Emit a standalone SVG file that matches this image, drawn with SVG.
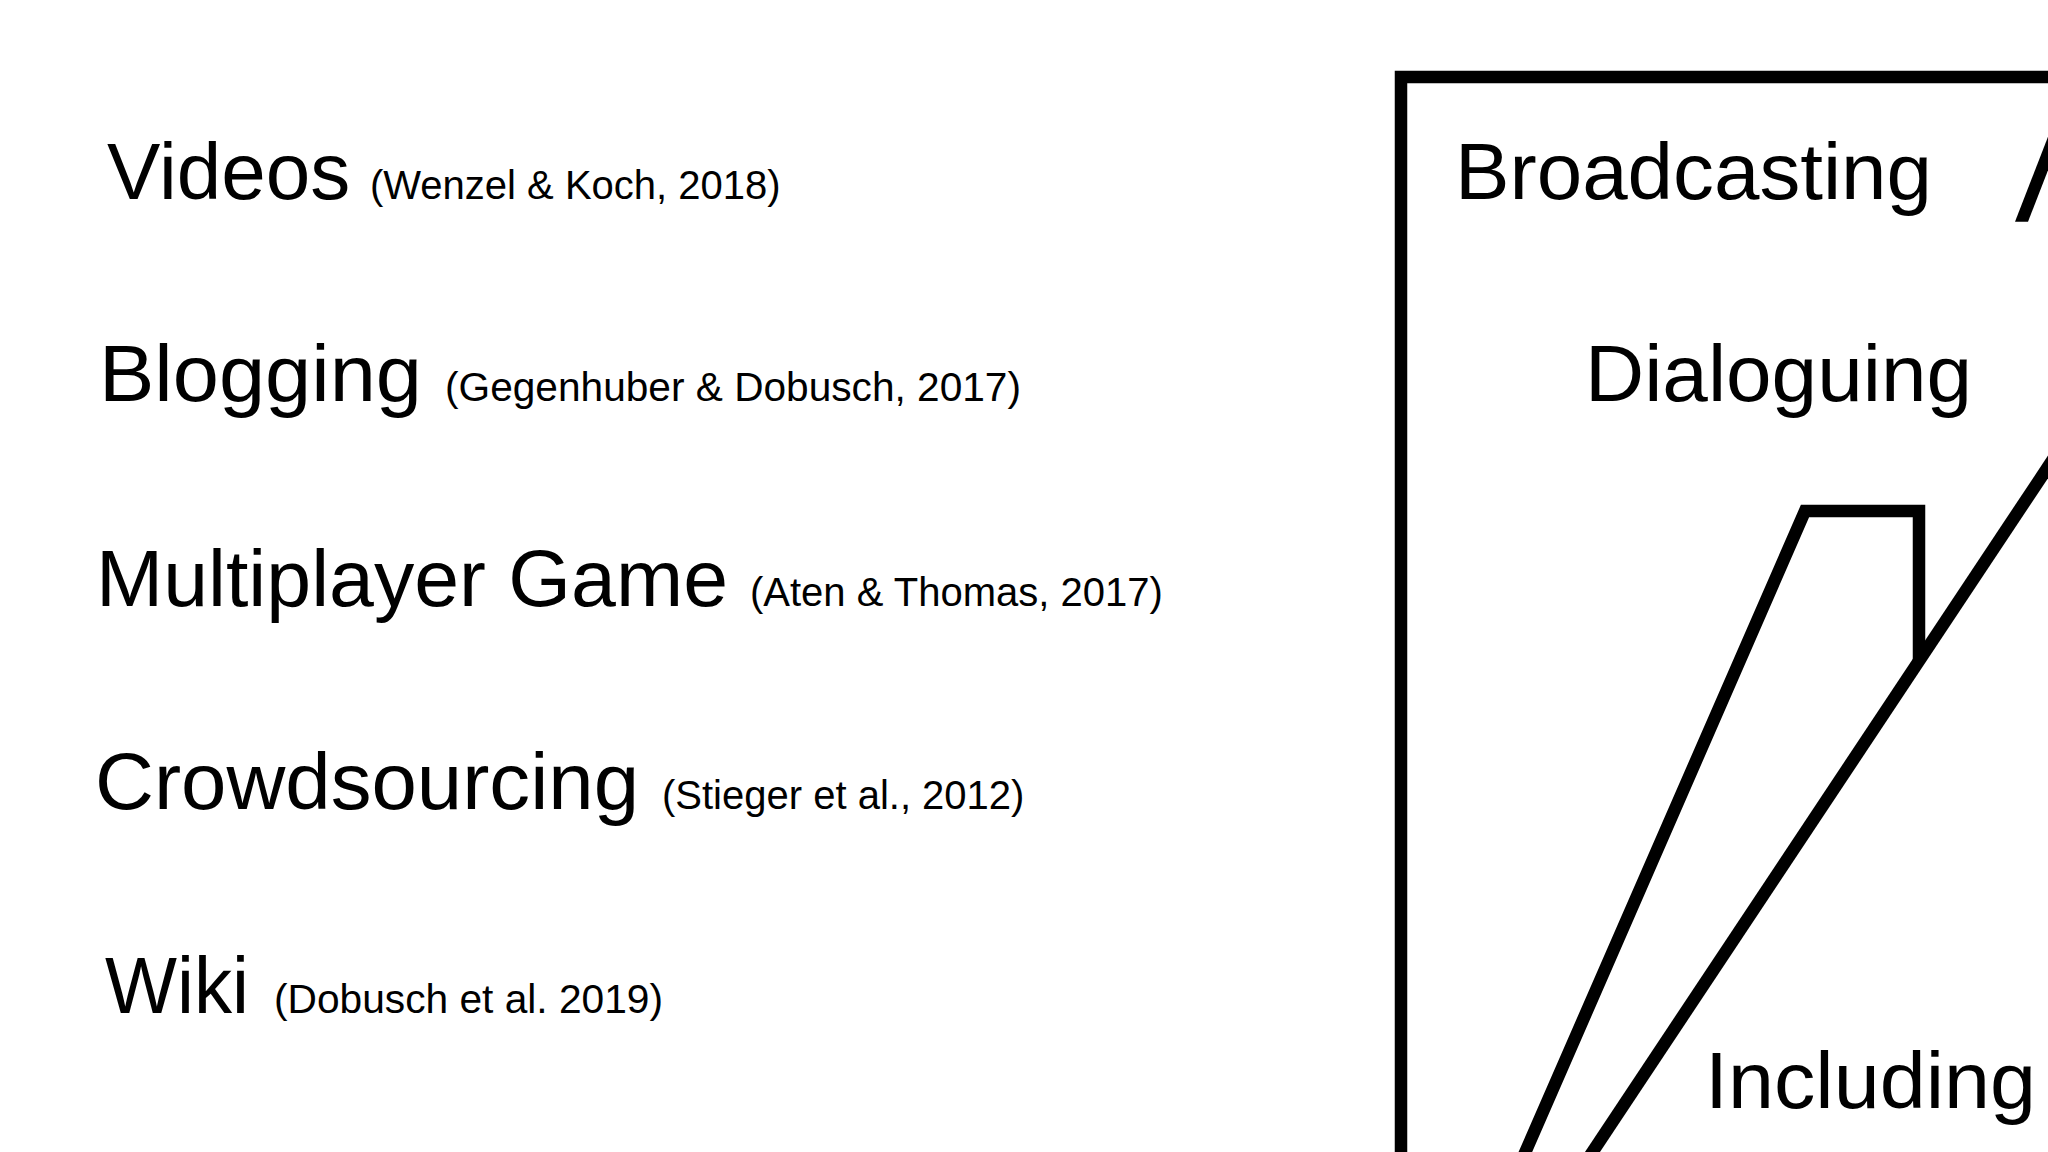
<svg xmlns="http://www.w3.org/2000/svg" width="2048" height="1152" viewBox="0 0 2048 1152">
  <style>
    .big { font-family: "Liberation Sans", Arial, Helvetica, sans-serif; font-size: 80px; fill: #000; }
    .cite { font-family: "Liberation Sans", Arial, Helvetica, sans-serif; font-size: 40px; fill: #000; }
    .ln { fill: none; stroke: #000; stroke-width: 12.5; stroke-linejoin: miter; stroke-miterlimit: 10; stroke-linecap: butt; }
  </style>
  <rect x="0" y="0" width="2048" height="1152" fill="#ffffff"/>

  <g id="videos">
    <text class="big" x="107" y="199">Videos</text>
    <text class="cite" x="370" y="199">(Wenzel &amp; Koch, 2018)</text>
  </g>
  <g id="blogging">
    <text class="big" x="99" y="401" textLength="323" lengthAdjust="spacingAndGlyphs">Blogging</text>
    <text class="cite" x="445" y="401" textLength="576" lengthAdjust="spacingAndGlyphs">(Gegenhuber &amp; Dobusch, 2017)</text>
  </g>
  <g id="multiplayer">
    <text class="big" x="96" y="606" textLength="632" lengthAdjust="spacingAndGlyphs">Multiplayer Game</text>
    <text class="cite" x="750" y="606">(Aten &amp; Thomas, 2017)</text>
  </g>
  <g id="crowdsourcing">
    <text class="big" x="95" y="809" textLength="544" lengthAdjust="spacingAndGlyphs">Crowdsourcing</text>
    <text class="cite" x="662" y="809">(Stieger et al., 2012)</text>
  </g>
  <g id="wiki">
    <text class="big" x="105" y="1013" textLength="144" lengthAdjust="spacingAndGlyphs">Wiki</text>
    <text class="cite" x="274" y="1013" textLength="389" lengthAdjust="spacingAndGlyphs">(Dobusch et al. 2019)</text>
  </g>

  <g id="broadcasting">
    <text class="big" x="1455" y="199" textLength="477" lengthAdjust="spacingAndGlyphs">Broadcasting</text>
  </g>
  <g id="dialoguing">
    <text class="big" x="1585" y="401" textLength="387" lengthAdjust="spacingAndGlyphs">Dialoguing</text>
  </g>
  <g id="including">
    <text class="big" x="1705" y="1108" textLength="331" lengthAdjust="spacingAndGlyphs">Including</text>
  </g>

  <g id="connectors">
    <path class="ln" d="M1401,1170 V77 H2070"/>
    <polygon points="2015,221.7 2028,221.7 2114,0 2101,0" fill="#000"/>
    <path class="ln" d="M1517.5,1170 L1805,511 H1919 V662"/>
    <path class="ln" d="M1580.5,1170 L2080.5,418"/>
  </g>
</svg>
